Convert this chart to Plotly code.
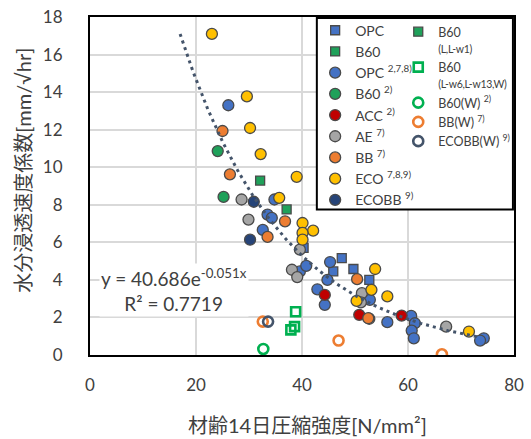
import numpy as np
import plotly.graph_objects as go

# ---- data ----
opc_sq_x = [40.3, 47.5, 45.9, 49.7, 52.7]
opc_sq_y = [5.7, 5.16, 4.45, 4.58, 4.0]

b60_sq_x = [32.1, 37.1]
b60_sq_y = [9.29, 7.75]

opc_x = [26.1, 34.8, 33.5, 34.3, 32.6, 39.6, 40.8, 42.9, 45.3, 44.8, 44.3, 52.8, 56.1, 60.6, 61.3, 60.7, 61.1, 74.3, 73.6]
opc_y = [13.3, 8.28, 7.48, 7.30, 6.66, 4.45, 4.75, 3.5, 4.95, 4.0, 2.67, 2.94, 1.75, 2.08, 1.69, 1.30, 0.89, 0.89, 0.77]

b60_x = [24.1, 25.2]
b60_y = [10.86, 8.42]

acc_x = [44.3, 50.8, 58.8]
acc_y = [3.2, 2.14, 2.1]

ae_x = [28.6, 29.9, 39.6, 38.1, 39.1, 51.3, 51.1, 52.7, 67.2]
ae_y = [8.28, 7.21, 5.61, 4.54, 4.15, 3.29, 2.80, 1.93, 1.51]

bb_x = [25.0, 26.4, 36.8, 33.5, 50.4, 52.5]
bb_y = [11.93, 9.62, 7.12, 6.29, 4.04, 1.96]

eco_x = [23.0, 29.6, 30.2, 32.2, 39.0, 35.7, 40.1, 42.1, 40.1, 40.1, 53.8, 53.1, 56.1, 50.3, 71.5]
eco_y = [17.1, 13.77, 12.09, 10.7, 9.49, 8.37, 7.03, 6.62, 6.5, 6.14, 4.58, 3.47, 3.12, 2.88, 1.25]

ecobb_x = [30.9, 30.2]
ecobb_y = [8.16, 6.14]

b60_open_sq_x = [38.8, 38.6, 37.9]
b60_open_sq_y = [2.30, 1.51, 1.34]

b60w_x = [32.7]
b60w_y = [0.32]

bbw_x = [32.6, 46.9, 66.4]
bbw_y = [1.78, 0.77, 0.04]

ecobbw_x = [33.6]
ecobbw_y = [1.78]

trend_a = 40.686
trend_b = -0.051
trend_x_range = [17.0, 73.5]

x_ticks = [0, 20, 40, 60, 80]
y_ticks = [0, 2, 4, 6, 8, 10, 12, 14, 16, 18]

FONT = "Lato, 'Noto Sans CJK JP', sans-serif"
EDGE = "#4a4a4a"

fig = go.Figure()

def filled(x, y, name, color, symbol="circle", size=11, legend="legend"):
    fig.add_trace(go.Scatter(
        x=x, y=y, mode="markers", name=name, legend=legend,
        marker=dict(symbol=symbol, size=size, color=color,
                    line=dict(color=EDGE, width=1.3))))

def hollow(x, y, name, color, symbol="circle-open", size=10, legend="legend2"):
    fig.add_trace(go.Scatter(
        x=x, y=y, mode="markers", name=name, legend=legend,
        marker=dict(symbol=symbol, size=size, color=color,
                    line=dict(color=color, width=2.6))))

SUP = "<sup>%s</sup>"
SUB_STYLE = "font-size:10.5px;letter-spacing:-0.3px"

filled(opc_sq_x, opc_sq_y, "OPC", "#4472C4", symbol="square", size=9)
filled(b60_sq_x, b60_sq_y, "B60", "#1FA15A", symbol="square", size=9)
filled(opc_x, opc_y, "OPC " + SUP % "2,7,8)", "#4472C4")
filled(b60_x, b60_y, "B60 " + SUP % "2)", "#1FA15A")
filled(acc_x, acc_y, "ACC " + SUP % "2)", "#C00000")
filled(ae_x, ae_y, "AE " + SUP % "7)", "#A5A5A5")
filled(bb_x, bb_y, "BB " + SUP % "7)", "#ED7D31")
filled(eco_x, eco_y, "ECO " + SUP % "7,8,9)", "#FFC000")
filled(ecobb_x, ecobb_y, "ECOBB " + SUP % "9)", "#264478")

# legend-only entry for B60 (L,L-w1) in right column
fig.add_trace(go.Scatter(
    x=[None], y=[None], mode="markers", legend="legend2",
    name="B60<br><span style='%s'>(L,L-w1)</span>" % SUB_STYLE,
    marker=dict(symbol="square", size=9, color="#1FA15A", line=dict(color=EDGE, width=1.3))))
hollow(b60_open_sq_x, b60_open_sq_y,
       "B60<br><span style='%s'>(L-w6,L-w13,W)</span>" % SUB_STYLE, "#00B050",
       symbol="square-open", size=9)
hollow(b60w_x, b60w_y, "B60(W) " + SUP % "2)", "#00B050")
hollow(bbw_x, bbw_y, "BB(W) " + SUP % "7)", "#ED7D31")
hollow(ecobbw_x, ecobbw_y, "ECOBB(W) " + SUP % "9)", "#44546A")

tx = np.linspace(trend_x_range[0], trend_x_range[1], 200)
fig.add_trace(go.Scatter(
    x=tx, y=trend_a * np.exp(trend_b * tx), mode="lines", showlegend=False,
    line=dict(color="#44546A", width=3, dash="3px,4px"), hoverinfo="skip"))

fig.add_annotation(
    x=15.9, y=3.45, xref="x", yref="y", xanchor="center", yanchor="middle",
    text="y = 40.686e<sup>-0.051x</sup><br>R² = 0.7719",
    showarrow=False, align="center", bgcolor="white",
    font=dict(family=FONT, size=19, color="#404040"))

# axis titles
fig.add_annotation(
    x=0.512, y=-0.208, xref="paper", yref="paper", showarrow=False,
    xanchor="center", yanchor="middle",
    text="材齢14日圧縮強度[N/mm²]", font=dict(family=FONT, size=20, color="#404040"))
fig.add_annotation(
    x=-0.158, y=0.545, xref="paper", yref="paper", showarrow=False, textangle=-90,
    xanchor="center", yanchor="middle",
    text="水分浸透速度係数[mm/√hr]", font=dict(family=FONT, size=20, color="#404040"))

# legend box (frame drawn behind the legends, above the grid)
fig.add_shape(type="rect", xref="x", yref="y",
              x0=42.8, x1=79.8, y0=7.75, y1=17.95,
              fillcolor="white", line=dict(color="black", width=2), layer="between")

def legend_style(x, y, size):
    return dict(x=x, y=y, bgcolor="rgba(0,0,0,0)", borderwidth=0,
                font=dict(family=FONT, size=size, color="#404040"),
                xanchor="left", yanchor="top", valign="top", tracegroupgap=0)

fig.update_layout(
    width=531, height=439,
    margin=dict(l=90, r=17, t=17, b=84, autoexpand=False),
    paper_bgcolor="white", plot_bgcolor="white",
    font=dict(family=FONT, color="#404040"),
    showlegend=True,
    legend=legend_style(0.531, 1.007, 14),
    legend2=legend_style(0.727, 1.0, 12.5),
    xaxis=dict(range=[0, 80], tickvals=x_ticks, showgrid=True, gridcolor="#D9D9D9",
               gridwidth=1.5, zeroline=False, showline=True, linecolor="black",
               linewidth=2, mirror=True, ticks="", ticklabelstandoff=14,
               tickfont=dict(family=FONT, size=17, color="#404040")),
    yaxis=dict(range=[0, 18], tickvals=y_ticks, showgrid=True, gridcolor="#D9D9D9",
               gridwidth=1.5, zeroline=False, showline=True, linecolor="black",
               linewidth=2, mirror=True, ticks="", ticklabelstandoff=22,
               tickfont=dict(family=FONT, size=17, color="#404040")),
)

fig.write_html("out.html")
